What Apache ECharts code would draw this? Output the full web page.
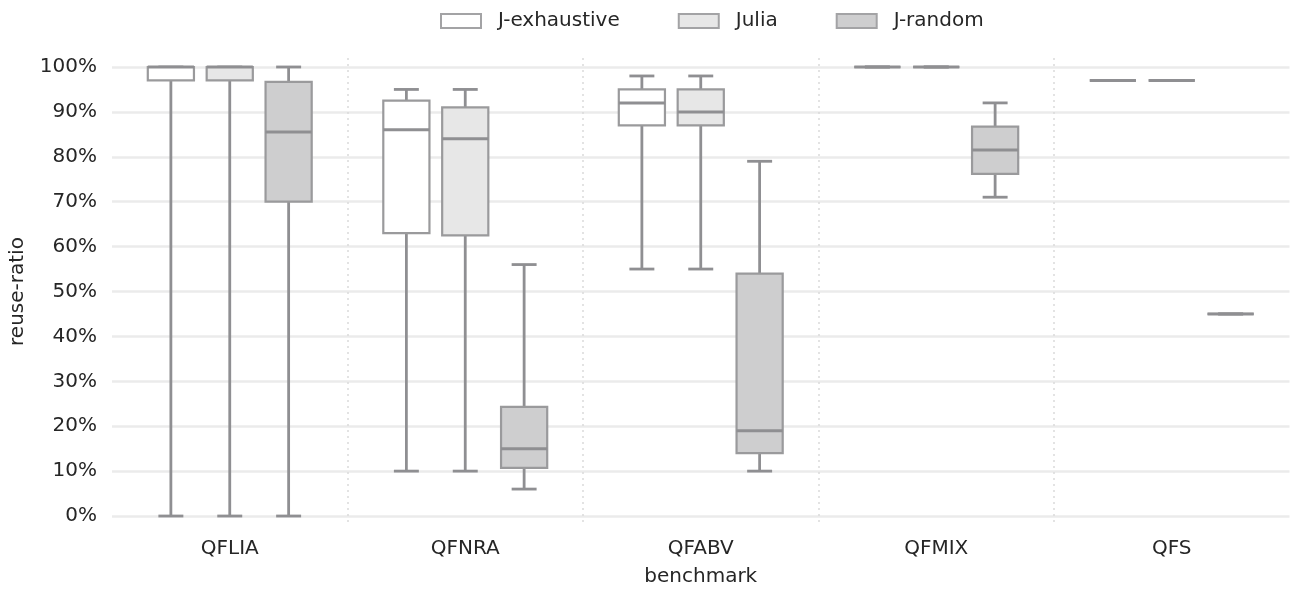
<!DOCTYPE html>
<html>
<head>
<meta charset="utf-8">
<script src="https://cdn.jsdelivr.net/npm/echarts@6/dist/echarts.min.js"></script>
<style>
  html, body { margin: 0; padding: 0; background: #ffffff; }
  #chart { width: 1295px; height: 592px; }
</style>
</head>
<body>
<div id="chart"></div>
<script>
// Benchmarks on the x axis
const categories = ['QFLIA', 'QFNRA', 'QFABV', 'QFMIX', 'QFS'];

// Five-number summaries per benchmark: [min, Q1, median, Q3, max] in percent
const jExhaustive = [
  [0, 97, 100, 100, 100],
  [10, 63, 86, 92.5, 95],
  [55, 87, 92, 95, 98],
  [100, 100, 100, 100, 100],
  [97, 97, 97, 97, 97]
];
const julia = [
  [0, 97, 100, 100, 100],
  [10, 62.5, 84, 91, 95],
  [55, 87, 90, 95, 98],
  [100, 100, 100, 100, 100],
  [97, 97, 97, 97, 97]
];
const jRandom = [
  [0, 70, 85.5, 96.7, 100],
  [6, 10.7, 15, 24.3, 56],
  [10, 14, 19, 54, 79],
  [71, 76.2, 81.5, 86.7, 92],
  [45, 45, 45, 45, 45]
];

const seriesNames = ['J-exhaustive', 'Julia', 'J-random'];
const seriesData = [jExhaustive, julia, jRandom];
const fills = ['#ffffff', '#e7e7e7', '#cececf'];

const LINE = '#8f8f92';
const BOX_EDGE = '#9a9a9c';
const OFFSET = 0.25;      // box centre offset, fraction of category band
const BOX_W = 0.196;      // box width, fraction of band
const CAP_W = 0.106;      // whisker cap width, fraction of band

function makeRenderer(idx) {
  return function (params, api) {
    const cat = api.value(0);
    const band = api.size([1, 0])[0];
    const cx = api.coord([cat, 0])[0] + (idx - 1) * OFFSET * band;
    const y = k => api.coord([cat, api.value(k)])[1];
    const yMin = y(1), yQ1 = y(2), yMed = y(3), yQ3 = y(4), yMax = y(5);
    const hb = band * BOX_W / 2;
    const hc = band * CAP_W / 2;
    const lineStyle = { stroke: LINE, lineWidth: 2.8, fill: null };
    return {
      type: 'group',
      children: [
        { type: 'line', shape: { x1: cx, y1: yQ3, x2: cx, y2: yMax }, style: lineStyle },
        { type: 'line', shape: { x1: cx, y1: yQ1, x2: cx, y2: yMin }, style: lineStyle },
        { type: 'line', shape: { x1: cx - hc, y1: yMax, x2: cx + hc, y2: yMax }, style: lineStyle },
        { type: 'line', shape: { x1: cx - hc, y1: yMin, x2: cx + hc, y2: yMin }, style: lineStyle },
        {
          type: 'rect',
          shape: { x: cx - hb, y: yQ3, width: hb * 2, height: yQ1 - yQ3 },
          style: { fill: fills[idx], stroke: BOX_EDGE, lineWidth: 2.2 }
        },
        { type: 'line', shape: { x1: cx - hb, y1: yMed, x2: cx + hb, y2: yMed }, style: { stroke: LINE, lineWidth: 3, fill: null } }
      ]
    };
  };
}

const series = seriesNames.map((name, idx) => ({
  name: name,
  type: 'custom',
  renderItem: makeRenderer(idx),
  itemStyle: { color: fills[idx], borderColor: BOX_EDGE, borderWidth: 2 },
  encode: { x: 0, y: [1, 2, 3, 4, 5] },
  data: seriesData[idx].map((v, i) => [i].concat(v)),
  z: 3
}));

const FONT = 'DejaVu Sans';
const chart = echarts.init(document.getElementById('chart'), null, { renderer: 'canvas' });
chart.setOption({
  animation: false,
  backgroundColor: '#ffffff',
  textStyle: { fontFamily: FONT },
  legend: {
    top: 6,
    left: 435,
    icon: 'rect',
    itemWidth: 40,
    itemHeight: 14,
    itemGap: 58,
    textStyle: { fontFamily: FONT, fontSize: 20, color: '#262626', padding: [0, 0, 0, 12] },
    data: seriesNames.map((n, i) => ({
      name: n,
      itemStyle: { color: fills[i], borderColor: '#a3a3a5', borderWidth: 2 }
    }))
  },
  grid: { left: 112, right: 5.5, top: 58, height: 468 },
  xAxis: {
    type: 'category',
    data: categories,
    boundaryGap: true,
    name: 'benchmark',
    nameLocation: 'middle',
    nameGap: 42,
    nameTextStyle: { fontFamily: FONT, fontSize: 20, color: '#262626' },
    axisLine: { show: false },
    axisTick: { show: false },
    axisLabel: { fontFamily: FONT, fontSize: 20, color: '#262626', margin: 14 },
    splitLine: {
      show: true,
      showMinLine: false,
      showMaxLine: false,
      lineStyle: { color: '#dadada', width: 1.5, type: [2, 4] }
    }
  },
  yAxis: {
    type: 'value',
    min: -2,
    max: 102,
    minInterval: 10,
    maxInterval: 10,
    name: 'reuse-ratio',
    nameLocation: 'middle',
    nameGap: 84,
    nameTextStyle: { fontFamily: FONT, fontSize: 20, color: '#262626' },
    axisLine: { show: false },
    axisTick: { show: false },
    axisLabel: {
      fontFamily: FONT, fontSize: 20, color: '#262626', margin: 15,
      formatter: v => (Math.abs(v % 10) < 1e-9 && v >= 0 && v <= 100) ? v + '%' : ''
    },
    splitLine: {
      show: true,
      showMinLine: false,
      showMaxLine: false,
      lineStyle: { color: '#ebebeb', width: 2.5 }
    }
  },
  series: series
});
</script>
</body>
</html>
